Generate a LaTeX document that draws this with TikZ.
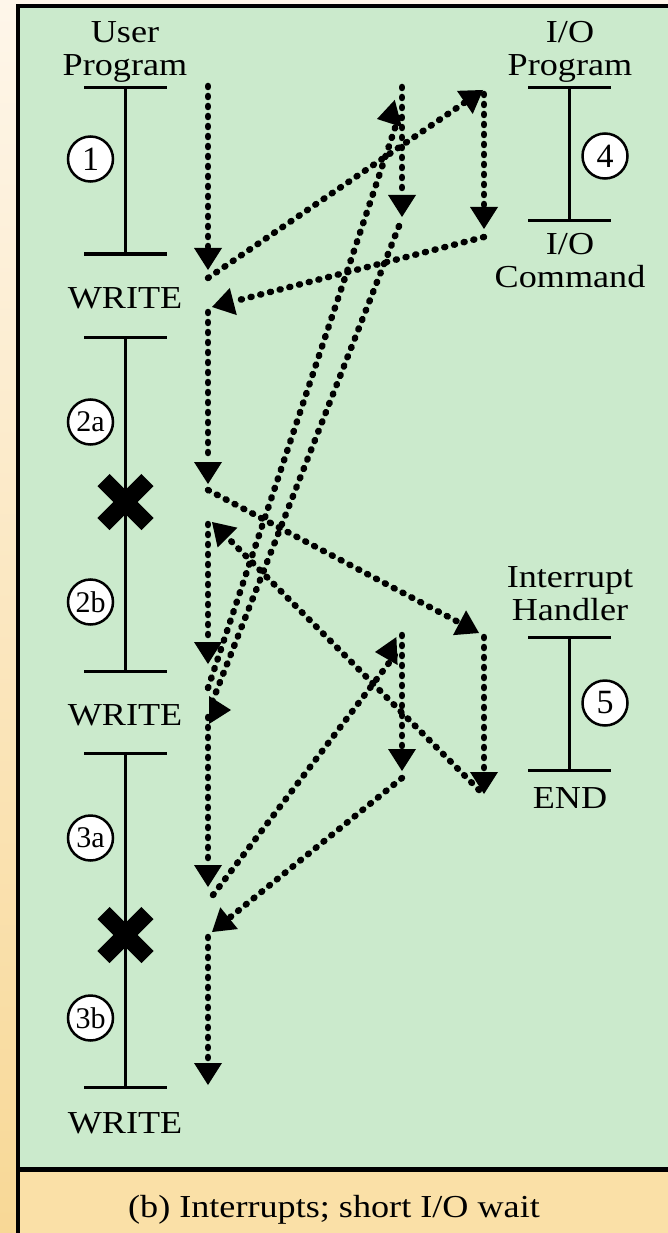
\documentclass[tikz,border=0pt]{standalone}
\usepackage{fontspec}
\setmainfont[FakeStretch=1.13]{Liberation Serif}
\newfontfamily\numfont{Liberation Serif}
\usetikzlibrary{arrows.meta}
\definecolor{panelgreen}{HTML}{CBEACC}
\definecolor{captiontan}{HTML}{FAE0A7}
\definecolor{edgelight}{HTML}{FEF6EA}
\definecolor{edgedark}{HTML}{F8D896}
% I-beam marking one stretch of code: x, top y, bottom y
\newcommand\ibeam[3]{%
  \draw[bar] (#1-41.5,#2) -- (#1+41.5,#2) (#1,#2) -- (#1,#3) (#1-41.5,#3) -- (#1+41.5,#3);}
% interruption point on a code stretch
\newcommand\intmark[2]{%
  \draw[cross] (#1-22,#2-22) -- (#1+22,#2+22) (#1-22,#2+22) -- (#1+22,#2-22);}
\begin{document}
\begin{tikzpicture}[x=1pt,y=-1pt,
  lbl/.style={font=\fontsize{32}{33}\selectfont, inner sep=0pt, align=center},
  bar/.style={line width=3pt},
  cross/.style={line width=17pt},
  flow/.style={line width=6.5pt, line cap=round, dash pattern=on 1pt off 9pt,
    -{Triangle[length=22pt,width=28pt,line width=0pt]}},
  num/.style={circle, draw, line width=2.5pt, fill=white, minimum size=45pt,
    inner sep=0pt, font=\numfont\fontsize{34}{34}\selectfont},
  subnum/.style={num, font=\numfont\fontsize{30}{30}\selectfont}
]
\useasboundingbox (0,0) rectangle (668,1233);
% surround, panel and caption strip
\fill[top color=edgelight, bottom color=edgedark] (0,0) rectangle (668,1233);
\fill[panelgreen] (18,6) rectangle (668,1167);
\fill[captiontan] (18,1169) rectangle (668,1233);
\draw[line width=4.5pt] (668,6) -- (18,6) -- (18,1233);
\draw[line width=5pt] (18,1169) -- (668,1169);

% column headings and end labels
\node[lbl] (userhead) at (125,52) {User\\Program};
\node[lbl] (iohead) at (570,52) {I/O\\Program};
\node[lbl] (iocmd) at (570,261) {I/O\\Command};
\node[lbl] (inthead) at (570,594) {Interrupt\\Handler};
\node[lbl, anchor=base] (intend) at (570,808) {END};
\node[lbl, anchor=base] (write1) at (125,308) {WRITE};
\node[lbl, anchor=base] (write2) at (125,725) {WRITE};
\node[lbl, anchor=base] (write3) at (125,1133) {WRITE};

% code stretches
\ibeam{125.5}{88}{254}
\ibeam{125.5}{337}{671}
\ibeam{125.5}{753}{1087}
\ibeam{569.5}{88}{221}
\ibeam{569.5}{637}{770}
\intmark{125.5}{502}
\intmark{125.5}{935}

% stretch numbers
\node[num] (n1) at (90.5,159) {1};
\node[subnum] (n2a) at (90.5,422) {2a};
\node[subnum] (n2b) at (90.5,602) {2b};
\node[subnum] (n3a) at (90.5,838) {3a};
\node[subnum] (n3b) at (90.5,1018) {3b};
\node[num] (n4) at (605,156) {4};
\node[num] (n5) at (605,703) {5};

% flow of control
\coordinate (u1) at (208,86);    \coordinate (u2) at (208,270);
\coordinate (u3) at (208,278);   \coordinate (io1) at (483,90);
\coordinate (io2) at (484,94);   \coordinate (io3) at (484,229);
\coordinate (io4) at (484,237);  \coordinate (u4) at (212,307);
\coordinate (u5) at (208,312);   \coordinate (u6) at (208,484);
\coordinate (u7) at (208,490);   \coordinate (ih1) at (479,633);
\coordinate (ih2) at (484,637);  \coordinate (ih3) at (484,794);
\coordinate (ih4) at (479,790);  \coordinate (u8) at (212,522);
\coordinate (u9) at (208,524);   \coordinate (u10) at (208,664);
% second call: the returns bend into their arrowheads
\coordinate (u11) at (208,688);  \coordinate (io5a) at (400,113); \coordinate (io5) at (377,119);
\coordinate (io6) at (402,87);   \coordinate (io7) at (402,217);
\coordinate (io8) at (399,226);  \coordinate (u12a) at (209,710); \coordinate (u12) at (231,710);
\coordinate (u13) at (208,717);  \coordinate (u14) at (208,887);
\coordinate (u15) at (213,895);  \coordinate (ih5a) at (398,651); \coordinate (ih5) at (375,652);
\coordinate (ih6) at (402,635);  \coordinate (ih7) at (402,771);
\coordinate (ih8) at (402,778);  \coordinate (u16) at (212,932);
\coordinate (u17) at (208,937);  \coordinate (u18) at (208,1085);

\draw[flow] (u1) -- (u2);
\draw[flow] (u3) -- (io1);
\draw[flow] (io2) -- (io3);
\draw[flow] (io4) -- (u4);
\draw[flow] (u5) -- (u6);
\draw[flow] (u7) -- (ih1);
\draw[flow] (ih2) -- (ih3);
\draw[flow] (ih4) -- (u8);
\draw[flow] (u9) -- (u10);
\draw[flow] (u11) -- (io5a) -- (io5);
\draw[flow] (io6) -- (io7);
\draw[flow] (io8) -- (u12a) -- (u12);
\draw[flow] (u13) -- (u14);
\draw[flow] (u15) -- (ih5a) -- (ih5);
\draw[flow] (ih6) -- (ih7);
\draw[flow] (ih8) -- (u16);
\draw[flow] (u17) -- (u18);

% caption
\node[lbl, anchor=base] (caption) at (334,1217) {(b) Interrupts; short I/O wait};
\end{tikzpicture}
\end{document}
